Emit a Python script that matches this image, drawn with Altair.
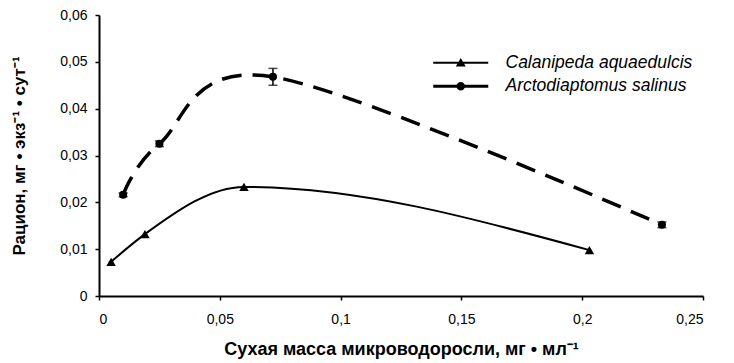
import altair as alt
import pandas as pd

# Series: food ration of two copepod species vs. microalga dry mass
cal_name = "Calanipeda aquaedulcis"
arc_name = "Arctodiaptomus salinus"

cal_x = [0.005, 0.019, 0.060, 0.203]
cal_y = [0.0073, 0.0132, 0.0233, 0.0098]

arc_x = [0.010, 0.025, 0.072, 0.233]
arc_y = [0.0216, 0.0325, 0.0468, 0.0152]
arc_err = [0.0004, 0.0006, 0.0018, 0.0006]

x_ticks = [0, 0.05, 0.1, 0.15, 0.2, 0.25]
y_ticks = [0, 0.01, 0.02, 0.03, 0.04, 0.05, 0.06]

series_order = [cal_name, arc_name]

# Legend glyphs (fill only): a bar standing for the line, with the series marker on it
legend_glyphs = [
    "M-5.5,-0.2H5.5V0.2H-5.5Z M0,-0.95L1,0.75L-1,0.75Z",
    "M-5.5,-0.3H-0.5V0.3H-5.5Z M0.5,-0.3H5.5V0.3H0.5Z "
    "M-0.85,0A0.85,0.85,0,1,1,0.85,0A0.85,0.85,0,1,1,-0.85,0Z",
]

cal_df = pd.DataFrame({"series": cal_name, "x": cal_x, "y": cal_y})
arc_df = pd.DataFrame({"series": arc_name, "x": arc_x, "y": arc_y})
df = pd.concat([cal_df, arc_df], ignore_index=True)

err_df = pd.DataFrame({
    "x": arc_x,
    "lo": [y - e for y, e in zip(arc_y, arc_err)],
    "hi": [y + e for y, e in zip(arc_y, arc_err)],
})
cap_df = pd.concat([
    pd.DataFrame({"x": err_df["x"], "y": err_df["lo"]}),
    pd.DataFrame({"x": err_df["x"], "y": err_df["hi"]}),
])

FONT = "Liberation Sans"
comma_x = "datum.value == 0 ? '0' : replace(format(datum.value, '~g'), '.', ',')"
comma_y = "datum.value == 0 ? '0' : replace(format(datum.value, '.2f'), '.', ',')"

x_enc = alt.X(
    "x:Q",
    scale=alt.Scale(domain=[0, 0.25], nice=False),
    axis=alt.Axis(
        values=x_ticks, labelExpr=comma_x,
        title="Сухая масса микроводоросли, мг • мл⁻¹",
        titleFontSize=18,
        labelPadding=12, titlePadding=14,
    ),
)
y_enc = alt.Y(
    "y:Q",
    scale=alt.Scale(domain=[0, 0.06], nice=False),
    axis=alt.Axis(
        values=y_ticks, labelExpr=comma_y,
        title="Рацион, мг • экз⁻¹ • сут⁻¹",
        titleFontSize=17,
        labelPadding=8, titlePadding=31,
    ),
)

cal_line = alt.Chart(cal_df).mark_line(
    interpolate="monotone", color="black", strokeWidth=2
).encode(x=x_enc, y=y_enc)

arc_line = alt.Chart(arc_df).mark_line(
    interpolate="cardinal", color="black", strokeWidth=3.5, strokeDash=[20, 11]
).encode(x="x:Q", y="y:Q")

# Legend carrier: the same points with the combined glyphs, drawn at a tiny size
legend_layer = alt.Chart(df).mark_point(
    filled=True, color="black", strokeWidth=0, opacity=1, size=1
).encode(
    x="x:Q",
    y="y:Q",
    shape=alt.Shape(
        "series:N",
        scale=alt.Scale(domain=series_order, range=legend_glyphs),
        legend=alt.Legend(
            title=" ",
            titleFontSize=14,
            titlePadding=15,
            orient="top-right",
            offset=10,
            symbolSize=100,
            symbolFillColor="black",
            symbolOpacity=1,
            labelOffset=36,
            labelLimit=0,
            rowPadding=4.5,
            labelFont=FONT,
            labelFontSize=17.5,
            labelFontStyle="italic",
            labelColor="black",
        ),
    ),
)

tri_points = alt.Chart(cal_df).mark_point(
    filled=True, color="black", opacity=1, shape="triangle-up", size=90
).encode(x="x:Q", y="y:Q")
dot_points = alt.Chart(arc_df).mark_point(
    filled=True, color="black", opacity=1, shape="circle", size=65
).encode(x="x:Q", y="y:Q")

err_rules = alt.Chart(err_df).mark_rule(color="black", strokeWidth=1.5).encode(
    x="x:Q", y="lo:Q", y2="hi:Q"
)
err_caps = alt.Chart(cap_df).mark_tick(
    color="black", orient="horizontal", size=9, thickness=1.5
).encode(x="x:Q", y="y:Q")

chart = (
    alt.layer(cal_line, arc_line, legend_layer, err_rules, err_caps, tri_points, dot_points)
    .properties(
        width=604,
        height=281,
        autosize=alt.AutoSizeParams(type="none"),
        padding={"left": 99, "top": 15, "right": 31, "bottom": 67},
        background="white",
    )
    .configure_view(stroke=None)
    .configure_axis(
        grid=False,
        domainColor="black",
        domainWidth=2,
        tickColor="black",
        tickWidth=1.5,
        tickSize=4,
        labelFont=FONT,
        labelFontSize=14,
        labelColor="black",
        titleFont=FONT,
        titleFontWeight="bold",
        titleColor="black",
    )
)

chart.save("out.html", embed_options={"renderer": "svg", "actions": False})
